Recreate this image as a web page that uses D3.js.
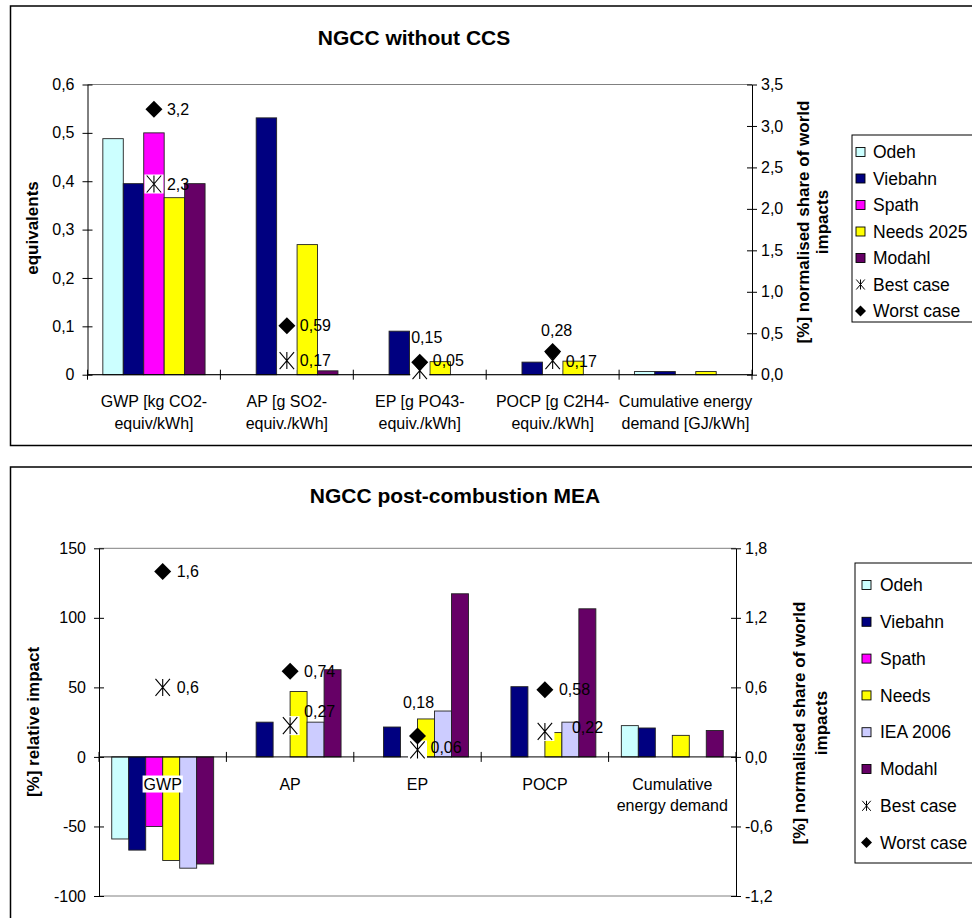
<!DOCTYPE html>
<html><head><meta charset="utf-8">
<script src="https://cdn.jsdelivr.net/npm/d3@7"></script>
<style>
body{margin:0;background:#fff}
svg text{font-family:Arial,"Liberation Sans",sans-serif;fill:#000}
</style>
</head><body>
<svg id="c" width="972" height="918"></svg>
<script>
// ---------------- DATA ----------------
// Chart 1: NGCC without CCS
const topTitle = "NGCC without CCS";
const topCategories = [["GWP [kg CO2-","equiv/kWh]"],["AP [g SO2-","equiv./kWh]"],["EP [g PO43-","equiv./kWh]"],["POCP [g C2H4-","equiv./kWh]"],["Cumulative energy","demand [GJ/kWh]"]];
const topSeries = ["Odeh","Viebahn","Spath","Needs 2025","Modahl"];
const topOdeh    = [0.488, null, null, null, 0.0065];
const topViebahn = [0.395, 0.531, 0.090, 0.026, 0.0065];
const topSpath   = [0.500, null, null, null, null];
const topNeeds   = [0.366, 0.269, 0.027, 0.028, 0.0065];
const topModahl  = [0.395, 0.008, null, null, null];
const topBest    = [2.3, 0.17, 0.05, 0.17, null];
const topWorst   = [3.2, 0.59, 0.15, 0.28, null];
const topLeftTicks  = [0, 0.1, 0.2, 0.3, 0.4, 0.5, 0.6];
const topRightTicks = [0, 0.5, 1.0, 1.5, 2.0, 2.5, 3.0, 3.5];

// Chart 2: NGCC post-combustion MEA
const botTitle = "NGCC post-combustion MEA";
const botCategories = [["GWP"],["AP"],["EP"],["POCP"],["Cumulative","energy demand"]];
const botSeries = ["Odeh","Viebahn","Spath","Needs","IEA 2006","Modahl"];
const botOdeh    = [-59, null, null, null, 22.5];
const botViebahn = [-67, 25, 21.5, 50.5, 20.8];
const botSpath   = [-50, null, null, null, null];
const botNeeds   = [-74.5, 47, 27.3, 17.5, 15.5];
const botIEA     = [-80, 25, 33, 25, null];
const botModahl  = [-77, 62.7, 117.3, 106.5, 19];
const botBest    = [0.6, 0.27, 0.06, 0.22, null];
const botWorst   = [1.6, 0.74, 0.18, 0.58, null];
const botLeftTicks  = [-100, -50, 0, 50, 100, 150];
const botRightTicks = [-1.2, -0.6, 0, 0.6, 1.2, 1.8];

// ---------------- STYLE / LAYOUT ----------------
const colors = {"Odeh":"#CCFFFF","Viebahn":"#000080","Spath":"#FF00FF","Needs 2025":"#FFFF00","Needs":"#FFFF00","IEA 2006":"#CCCCFF","Modahl":"#660066"};
const loc = d3.formatLocale({decimal:",",thousands:".",grouping:[3],currency:["",""],minus:"-"});
const f1 = loc.format(".1f"), f0 = loc.format("d");
const labelText = v => String(v).replace(".", ",");
// label nudges [dx, dy, anchor]
const topWorstLab = [[13,0,"start"],[13,0,"start"],[7,-25,"middle"],[4,-21,"middle"],null];
const topBestLab  = [[13,0,"start"],[13,0,"start"],[13,-10,"start"],[13,1,"start"],null];
const botWorstLab = [[14,0,"start"],[14,0,"start"],[1,-34,"middle"],[14,0,"start"],null];
const botBestLab  = [[14,0,"start"],[14,-14,"start"],[13,-3,"start"],[27,-4,"start"],null];

const svg = d3.select("#c");

function diamondPath(r){ return `M0,${-r}L${r},0L0,${r}L${-r},0Z`; }
function asteriskPath(h){ return `M${-h*0.85},${-h}L${h*0.85},${h}M${h*0.85},${-h}L${-h*0.85},${h}M0,${-h}L0,${h}`; }

function drawChart(o){
  const g = svg.append("g");
  g.append("rect").attr("x",o.frame[0]).attr("y",o.frame[1]).attr("width",o.frame[2]).attr("height",o.frame[3])
    .attr("fill","#fff").attr("stroke","#000").attr("stroke-width",1.5);
  g.append("text").attr("x",o.titlePos[0]).attr("y",o.titlePos[1]).attr("dy","0.35em").attr("text-anchor","middle")
    .style("font-size","21px").style("font-weight","bold").text(o.title);

  const P = o.plot;
  const x = d3.scaleBand().domain(d3.range(o.categories.length)).range([P.x0,P.x1]);
  const xs = d3.scaleBand().domain(d3.range(o.series.length)).range([0,x.bandwidth()]).paddingInner(0).paddingOuter(0.75);
  const yL = d3.scaleLinear().domain(o.leftDomain).range([P.yb,P.yt]);
  const yR = d3.scaleLinear().domain(o.rightDomain).range([P.yb,P.yt]);

  // plot area border lines (gray)
  g.append("line").attr("x1",P.x0).attr("x2",P.x1).attr("y1",P.yt).attr("y2",P.yt).attr("stroke","#808080");
  g.append("line").attr("x1",P.x0).attr("x2",P.x1).attr("y1",P.yb).attr("y2",P.yb).attr("stroke","#808080");

  // bars
  o.series.forEach((s,si)=>{
    g.append("g").selectAll("rect")
      .data(o.values[si].map((v,ci)=>({v,ci})).filter(d=>d.v!=null))
      .join("rect")
      .attr("x",d=>x(d.ci)+xs(si)).attr("width",xs.bandwidth())
      .attr("y",d=>yL(Math.max(0,d.v))).attr("height",d=>Math.abs(yL(d.v)-yL(0)))
      .attr("fill",colors[s]).attr("stroke","#222").attr("stroke-width",0.9);
  });

  // left axis
  const ax = g.append("g").attr("transform",`translate(${P.x0},0)`)
    .call(d3.axisLeft(yL).tickValues(o.leftTicks).tickFormat(o.leftFmt).tickSize(5).tickSizeOuter(0).tickPadding(8));
  ax.selectAll(".tick line").attr("x1",5).attr("stroke","#000");
  ax.select(".domain").attr("stroke","#000");
  ax.selectAll("text").style("font-size","16px").attr("font-family",null);
  // right axis
  const ar = g.append("g").attr("transform",`translate(${P.x1},0)`)
    .call(d3.axisRight(yR).tickValues(o.rightTicks).tickFormat(f1).tickSize(5).tickSizeOuter(0).tickPadding(4));
  ar.selectAll(".tick line").attr("x1",-5).attr("stroke","#000");
  ar.select(".domain").attr("stroke","#000");
  ar.selectAll("text").style("font-size","16px").attr("font-family",null);

  // category axis at zero
  const y0 = yL(0);
  g.append("line").attr("x1",P.x0).attr("x2",P.x1).attr("y1",y0).attr("y2",y0).attr("stroke","#000");
  g.append("g").selectAll("line").data(d3.range(o.categories.length+1)).join("line")
    .attr("x1",i=>P.x0+i*x.step()).attr("x2",i=>P.x0+i*x.step())
    .attr("y1",y0-5).attr("y2",y0+5).attr("stroke","#000");
  const cl = g.append("g").selectAll("g").data(o.categories).join("g");
  cl.each(function(lines,ci){
    const gg = d3.select(this);
    const cx = x(ci)+x.bandwidth()/2;
    const t = gg.append("text").attr("text-anchor","middle").style("font-size","16px");
    lines.forEach((ln,li)=>{
      t.append("tspan").attr("x",cx).attr("y",y0+o.catLabelY[0]+li*o.catLabelY[1]).attr("dy","0.35em").text(ln);
    });
    if(o.catLabelBg){
      const bb = t.node().getBBox();
      gg.insert("rect","text").attr("x",bb.x-1).attr("y",bb.y).attr("width",bb.width+2).attr("height",bb.height).attr("fill","#fff");
    }
  });

  // markers
  const cx = ci => x(ci)+x.bandwidth()/2;
  const best = o.best.map((v,ci)=>({v,ci})).filter(d=>d.v!=null);
  const worst = o.worst.map((v,ci)=>({v,ci})).filter(d=>d.v!=null);
  const bg = g.append("g").selectAll("g").data(best).join("g").attr("transform",d=>`translate(${cx(d.ci)},${yR(d.v)})`);
  bg.append("rect").attr("x",-9.5).attr("y",-9.5).attr("width",19).attr("height",19).attr("fill","#fff");
  bg.append("path").attr("d",asteriskPath(8.5)).attr("stroke","#000").attr("stroke-width",1.1).attr("fill","none");
  g.append("g").selectAll("path").data(worst).join("path")
    .attr("transform",d=>`translate(${cx(d.ci)},${yR(d.v)})`).attr("d",diamondPath(8.5)).attr("fill","#000");
  // data labels
  const lab = (arr,pos)=>g.append("g").selectAll("text").data(arr).join("text")
    .attr("x",d=>cx(d.ci)+pos[d.ci][0]).attr("y",d=>yR(d.v)+pos[d.ci][1]).attr("dy","0.35em")
    .attr("text-anchor",d=>pos[d.ci][2]).style("font-size","16px").text(d=>labelText(d.v));
  lab(best,o.bestLab); lab(worst,o.worstLab);

  // axis titles
  g.append("text").attr("transform",`translate(${o.leftTitlePos[0]},${o.leftTitlePos[1]}) rotate(-90)`)
    .attr("text-anchor","middle").attr("dy","0.35em").style("font-size","17px").style("font-weight","bold").text(o.leftTitle);
  o.rightTitle.forEach((ln,i)=>{
    g.append("text").attr("transform",`translate(${o.rightTitleX[i]},${o.rightTitleY}) rotate(-90)`)
      .attr("text-anchor","middle").attr("dy","0.35em").style("font-size","17px").style("font-weight","bold").text(ln);
  });

  // legend
  const L = o.legend;
  const items = o.series.map(s=>({name:s,type:"bar"})).concat([{name:"Best case",type:"best"},{name:"Worst case",type:"worst"}]);
  g.append("rect").attr("x",L.x).attr("y",L.y).attr("width",L.w).attr("height",L.h).attr("fill","#fff").attr("stroke","#000");
  const li = g.append("g").selectAll("g").data(items).join("g")
    .attr("transform",(d,i)=>`translate(${L.x},${L.y0+i*L.step})`);
  li.filter(d=>d.type==="bar").append("rect").attr("x",L.sw).attr("y",-4.5).attr("width",9).attr("height",9)
    .attr("fill",d=>colors[d.name]).attr("stroke","#000").attr("stroke-width",0.9);
  li.filter(d=>d.type==="best").append("path").attr("transform",`translate(${L.sw+4.5},0)`).attr("d",asteriskPath(5)).attr("stroke","#000").attr("fill","none");
  li.filter(d=>d.type==="worst").append("path").attr("transform",`translate(${L.sw+4.5},0)`).attr("d",diamondPath(5.5)).attr("fill","#000");
  li.append("text").attr("x",L.tx).attr("dy","0.35em").style("font-size","17.5px").text(d=>d.name);
}

drawChart({
  frame:[10.5,6,975,439.5], title:topTitle, titlePos:[414,37.5],
  plot:{x0:87.5,x1:752,yt:84.5,yb:374.7},
  categories:topCategories, series:topSeries,
  values:[topOdeh,topViebahn,topSpath,topNeeds,topModahl],
  leftDomain:[0,0.6], rightDomain:[0,3.5], leftTicks:topLeftTicks, rightTicks:topRightTicks,
  leftFmt:d=>d===0?"0":f1(d),
  catLabelY:[27,22], catLabelBg:false,
  best:topBest, worst:topWorst, bestLab:topBestLab, worstLab:topWorstLab,
  leftTitle:"equivalents", leftTitlePos:[32,228],
  rightTitle:["[%] normalised share of world","impacts"], rightTitleX:[803,822], rightTitleY:222,
  legend:{x:852,y:135,w:140,h:187,y0:152,step:26.5,sw:4,tx:21}
});
drawChart({
  frame:[10.5,467,975,470], title:botTitle, titlePos:[455,496],
  plot:{x0:99,x1:736,yt:548.3,yb:896},
  categories:botCategories, series:botSeries,
  values:[botOdeh,botViebahn,botSpath,botNeeds,botIEA,botModahl],
  leftDomain:[-100,150], rightDomain:[-1.2,1.8], leftTicks:botLeftTicks, rightTicks:botRightTicks,
  leftFmt:f0,
  catLabelY:[27,21], catLabelBg:true,
  best:botBest, worst:botWorst, bestLab:botBestLab, worstLab:botWorstLab,
  leftTitle:"[%] relative impact", leftTitlePos:[33,722],
  rightTitle:["[%] normalised share of world","impacts"], rightTitleX:[799,821], rightTitleY:723,
  legend:{x:855,y:563,w:140,h:300,y0:585,step:36.8,sw:7,tx:25}
});
</script>
</body></html>
